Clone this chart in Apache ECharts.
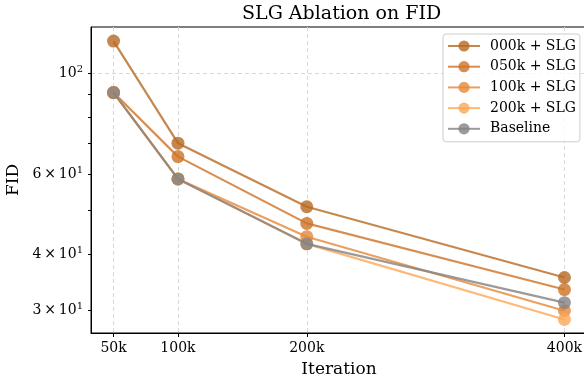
<!DOCTYPE html>
<html>
<head>
<meta charset="utf-8">
<script src="https://cdn.jsdelivr.net/npm/echarts@6/dist/echarts.min.js"></script>
<style>
  html, body { margin: 0; padding: 0; background: #fff; }
  #chart { width: 584px; height: 379px; }
</style>
</head>
<body>
<div id="chart"></div>
<script>
// iterations (in thousands)
const iterations = [50, 100, 200, 400];
const xTickValues = [50, 100, 200, 400];

// FID per run
const fid000k = [117.6, 70.1, 50.8, 35.5];
const fid050k = [90.6, 65.5, 46.7, 33.4];
const fid100k = [90.6, 58.5, 43.65, 30.0];
const fid200k = [90.6, 58.5, 42.1, 28.7];
const fidBaseline = [90.6, 58.5, 42.1, 31.25];

const seriesNames = ['000k + SLG', '050k + SLG', '100k + SLG', '200k + SLG', 'Baseline'];

// y ticks (log scale)
const yLabelValues = [30, 40, 60, 100];
const yTickValues = [30, 40, 50, 60, 70, 80, 90, 100];
const yGridValues = [100];

const colors = ['#b86922', '#cd7224', '#e68837', '#fba856', '#828282'];
const font = 'DejaVu Serif';

const chart = echarts.init(document.getElementById('chart'), null, { renderer: 'canvas' });

const toPairs = (vals) => iterations.map((x, i) => [x, vals[i]]);
const allData = [fid000k, fid050k, fid100k, fid200k, fidBaseline];

const series = allData.map((vals, i) => ({
  name: seriesNames[i],
  type: 'line',
  data: toPairs(vals),
  symbol: 'circle',
  symbolSize: 13,
  showSymbol: true,
  itemStyle: { color: colors[i], opacity: 0.8 },
  lineStyle: { color: colors[i], width: 2.2, opacity: 0.8 },
  emphasis: { disabled: true },
  z: 2 + i
}));

const supLabel = (v) => {
  if (v === 100) return '{b|10}{s|2}';
  return '{b|' + (v / 10) + '\u2009×\u200910}{s|1}';
};

const option = {
  animation: false,
  backgroundColor: '#fff',
  title: {
    text: 'SLG Ablation on FID',
    left: 237,
    top: 0,
    textStyle: { fontFamily: font, fontSize: 19, fontWeight: 'normal', color: '#000' }
  },
  legend: {
    orient: 'vertical',
    left: 443,
    top: 34,
    padding: [5, 4, 6, 4],
    itemGap: 6.7,
    itemWidth: 32,
    itemHeight: 14,
    backgroundColor: 'rgba(255,255,255,0.8)',
    borderColor: '#cccccc',
    borderWidth: 1,
    borderRadius: 3,
    data: seriesNames,
    textStyle: { fontFamily: font, fontSize: 14, color: '#000', padding: [0, 0, 0, 5] }
  },
  grid: {
    left: 91,
    top: 27,
    width: 496,
    height: 306,
    containLabel: false,
    outerBoundsMode: 'none',
    show: true,
    borderColor: '#000',
    borderWidth: 1,
    backgroundColor: 'transparent'
  },
  xAxis: {
    type: 'value',
    min: 32.5,
    max: 417.5,
    name: 'Iteration',
    nameLocation: 'middle',
    nameGap: 28,
    nameTextStyle: { fontFamily: font, fontSize: 17, color: '#000' },
    axisLine: { show: true, lineStyle: { color: '#000', width: 1 } },
    axisTick: { show: true, length: 4, customValues: xTickValues, lineStyle: { color: '#000' } },
    axisLabel: {
      customValues: xTickValues,
      fontFamily: font, fontSize: 14, color: '#000', margin: 8,
      formatter: (v) => v + 'k'
    },
    splitLine: { show: true, lineStyle: { color: '#d8d8d8', type: [4, 3], width: 1 } }
  },
  yAxis: [
    {
      type: 'log',
      logBase: 10,
      min: 26.8,
      max: 126.3,
      name: 'FID',
      nameLocation: 'middle',
      nameGap: 67,
      nameRotate: 90,
      nameTextStyle: { fontFamily: font, fontSize: 17, color: '#000' },
      axisLine: { show: true, lineStyle: { color: '#000', width: 1 } },
      axisTick: { show: true, length: 3, customValues: yTickValues, lineStyle: { color: '#000' } },
      axisLabel: {
        customValues: yLabelValues,
        margin: 8,
        formatter: supLabel,
        rich: {
          b: { fontFamily: font, fontSize: 14, color: '#000' },
          s: { fontFamily: font, fontSize: 10, color: '#000', padding: [0, 0, 8, 0] }
        }
      },
      splitLine: { show: false }
    },
    {
      type: 'log',
      logBase: 10,
      min: 26.8,
      max: 126.3,
      position: 'left',
      axisLine: { show: false },
      axisTick: { show: false, customValues: yGridValues },
      axisLabel: { show: false, customValues: yGridValues },
      splitLine: { show: true, lineStyle: { color: '#d8d8d8', type: [4, 3], width: 1 } }
    }
  ],
  series: series
};

chart.setOption(option);
</script>
</body>
</html>
